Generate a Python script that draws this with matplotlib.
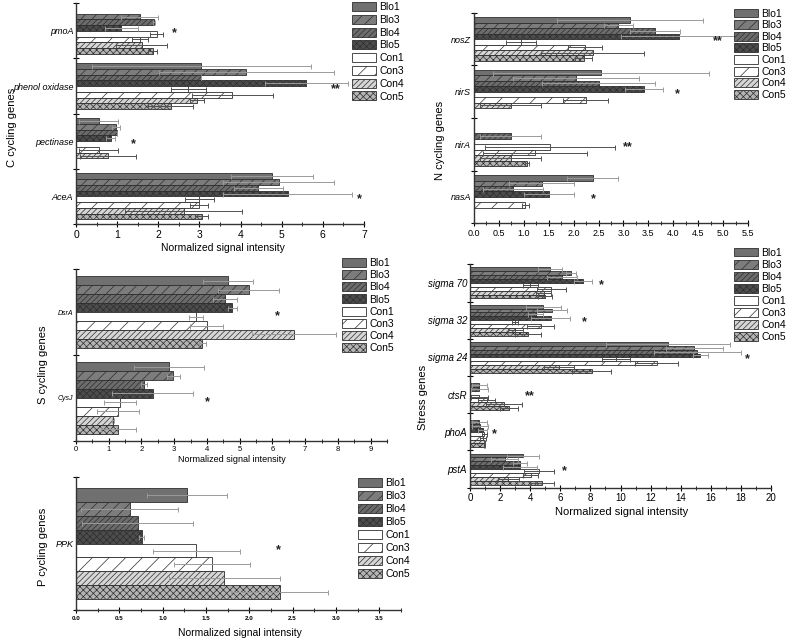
import numpy as np
import matplotlib.pyplot as plt
from matplotlib.patches import Patch
from matplotlib.ticker import MultipleLocator, FormatStrFormatter

plt.rcParams['font.family'] = ['Liberation Sans', 'DejaVu Sans']
plt.rcParams['hatch.linewidth'] = 0.5

series = ["Blo1", "Blo3", "Blo4", "Blo5", "Con1", "Con3", "Con4", "Con5"]

# C cycling genes
c_genes = ["pmoA", "phenol oxidase", "pectinase", "AceA"]
c_vals = [
    [0.00, 1.55, 1.90, 1.10, 1.96, 1.56, 1.60, 1.86],
    [3.05, 4.14, 3.05, 5.60, 2.73, 3.80, 2.94, 2.30],
    [0.55, 0.97, 1.00, 0.84, 0.00, 0.55, 0.78, 0.00],
    [4.76, 4.93, 4.43, 5.15, 3.00, 2.99, 2.62, 3.06],
]
c_errs = [
    [0.00, 0.45, 0.03, 0.40, 0.15, 0.20, 0.62, 0.10],
    [2.65, 2.12, 0.00, 1.00, 0.42, 0.98, 0.17, 0.55],
    [0.48, 0.10, 0.00, 0.11, 0.00, 0.48, 0.68, 0.00],
    [1.00, 1.35, 0.60, 1.57, 0.36, 0.23, 1.42, 0.16],
]
c_stars = ["*", "**", "*", "*"]
c_star_x = [2.39, 6.32, 1.39, 6.88]

# N cycling genes
n_genes = ["nosZ", "nirS", "nirA", "nasA"]
n_vals = [
    [3.13, 2.90, 3.64, 4.11, 0.95, 2.22, 2.38, 2.20],
    [2.55, 2.05, 2.50, 3.41, 0.00, 2.24, 0.74, 0.00],
    [0.00, 0.00, 0.74, 0.00, 1.53, 1.22, 0.74, 1.06],
    [2.38, 1.36, 0.79, 1.51, 0.00, 1.03, 0.00, 0.00],
]
n_errs = [
    [1.47, 0.30, 0.50, 1.16, 0.30, 0.34, 1.04, 0.17],
    [2.17, 1.27, 1.14, 0.38, 0.00, 0.45, 0.61, 0.00],
    [0.00, 0.00, 0.61, 0.00, 1.30, 1.04, 0.61, 0.04],
    [0.51, 0.65, 0.60, 0.50, 0.00, 0.07, 0.00, 0.00],
]
n_stars = ["**", "*", "**", "*"]
n_star_x = [4.9, 4.09, 3.08, 2.4]

# S cycling genes
s_genes = ["DsrA", "CysJ"]
s_vals = [
    [4.65, 5.28, 4.55, 4.78, 3.66, 3.99, 6.66, 3.86],
    [2.84, 2.97, 2.08, 2.34, 1.34, 1.29, 1.14, 1.29],
]
s_errs = [
    [0.77, 0.93, 0.38, 0.15, 0.21, 0.51, 1.28, 0.11],
    [1.08, 0.20, 0.08, 1.24, 0.49, 0.64, 0.03, 0.54],
]
s_stars = ["*", "*"]
s_star_x = [6.16, 4.01]

# P cycling genes
p_genes = ["PPK"]
p_vals = [[1.28, 0.62, 0.71, 0.76, 1.39, 1.57, 1.71, 2.35]]
p_errs = [[0.46, 0.56, 0.64, 0.03, 0.50, 0.44, 0.64, 0.56]]
p_stars = ["*"]
p_star_x = [2.33]

# Stress genes
st_genes = ["sigma 70", "sigma 32", "sigma 24", "ctsR", "phoA", "pstA"]
st_vals = [
    [5.30, 6.70, 6.10, 7.50, 4.00, 5.40, 4.90, 5.00],
    [4.87, 5.47, 4.36, 5.36, 3.00, 4.70, 3.00, 3.83],
    [13.15, 14.90, 15.10, 15.30, 9.70, 12.40, 5.90, 8.10],
    [0.00, 0.62, 0.62, 0.00, 0.62, 1.10, 2.24, 2.57],
    [0.00, 0.60, 0.65, 0.85, 0.95, 0.85, 0.95, 0.95],
    [3.50, 2.30, 3.32, 3.32, 4.60, 4.05, 2.55, 4.78],
]
st_errs = [
    [0.80, 0.35, 1.00, 0.60, 0.50, 0.95, 0.50, 0.45],
    [1.15, 1.00, 0.50, 1.30, 0.20, 0.90, 0.50, 0.87],
    [4.10, 1.90, 2.90, 0.50, 0.95, 1.45, 1.00, 1.30],
    [0.00, 0.50, 0.55, 0.00, 0.55, 0.55, 1.20, 0.60],
    [0.00, 0.50, 0.55, 0.30, 0.15, 0.20, 0.05, 0.05],
    [1.07, 0.90, 0.47, 1.10, 1.00, 0.50, 0.70, 0.78],
]
st_stars = ["*", "*", "*", "**", "*", "*"]
st_star_x = [8.7, 7.6, 18.4, 3.95, 1.6, 6.3]

# bar look for each series
face = ['#707070', '#7c7c7c', '#6c6c6c', '#4c4c4c', 'white', 'white', '#d6d6d6', '#b4b4b4']
hatch = [None, '///', '//////', 'xxxxx', None, '//', '//////', 'xxxxx']
err_col = ['#9a9a9a'] * 4 + ['#505050'] * 4

W, H = 787, 640
fig = plt.figure(figsize=(W / 100, H / 100), dpi=100)


def add_ax(l, t, r, b):
    return fig.add_axes([l / W, 1 - b / H, (r - l) / W, (b - t) / H])


def ftext(x, y, s, **kw):
    fig.text(x / W, 1 - y / H, s, ha='center', va='center', **kw)


def draw_panel(ax, genes, vals, errs, stars, star_x, xmax, major, minor,
               tick_fs, gene_fs, fmt=None, tick_bold=False, errc=None):
    vals = np.array(vals)
    errs = np.array(errs)
    n = len(genes)
    h = 0.104
    centers = np.arange(n) + 0.5
    for j in range(len(series)):
        ys = centers + (j - 3.5) * h
        m = vals[:, j] > 0
        ax.barh(ys[m], vals[m, j], height=h, color=face[j], hatch=hatch[j],
                edgecolor='#2e2e2e', linewidth=0.6, zorder=2)
        ec = errc if errc else err_col[j]
        ax.errorbar(vals[m, j], ys[m], xerr=errs[m, j], fmt='none', ecolor=ec,
                    elinewidth=0.7, capsize=1.8, capthick=0.7, zorder=3)
    for i in range(n):
        ax.text(star_x[i], centers[i] + 0.05, stars[i], ha='center', va='center',
                fontsize=9, fontweight='bold', color='#222222')
    ax.set_xlim(0, xmax)
    ax.set_ylim(n, 0)
    ax.xaxis.set_major_locator(MultipleLocator(major))
    ax.xaxis.set_minor_locator(MultipleLocator(minor))
    if fmt:
        ax.xaxis.set_major_formatter(FormatStrFormatter(fmt))
    ax.set_yticks(np.arange(n + 1))
    ax.set_yticklabels([])
    ax.set_yticks(centers, minor=True)
    ax.set_yticklabels(genes, minor=True, fontstyle='italic', fontsize=gene_fs)
    ax.tick_params(axis='y', which='major', direction='inout', length=4, width=0.8)
    ax.tick_params(axis='y', which='minor', length=0, pad=2)
    ax.tick_params(axis='x', which='major', direction='inout', length=4, width=0.8,
                   labelsize=tick_fs, pad=2)
    ax.tick_params(axis='x', which='minor', direction='inout', length=2.5, width=0.6)
    if tick_bold:
        for lab in ax.get_xticklabels():
            lab.set_fontweight('bold')
    for sp in ['top', 'right']:
        ax.spines[sp].set_visible(False)
    for sp in ['left', 'bottom']:
        ax.spines[sp].set_linewidth(1.0)
        ax.spines[sp].set_color('#333333')


def add_legend(ax, x, y, spacing):
    handles = [Patch(facecolor=face[j], hatch=hatch[j], edgecolor='#2e2e2e',
                     linewidth=0.6) for j in range(len(series))]
    ax.legend(handles, series, loc='upper left', bbox_to_anchor=(x / W, 1 - y / H),
              bbox_transform=fig.transFigure, frameon=False, fontsize=7.5,
              handlelength=2.3, handleheight=0.95, handletextpad=0.3,
              labelspacing=spacing, borderpad=0, borderaxespad=0)


# C panel
ax_c = add_ax(76, 3.3, 364, 224)
draw_panel(ax_c, c_genes, c_vals, c_errs, c_stars, c_star_x, 7.0, 1, 0.5, 7.5, 6.5)
add_legend(ax_c, 352, 2, 0.26)
ftext(12, 127, "C cycling genes", rotation=90, fontsize=8)
ftext(223, 248, "Normalized signal intensity", fontsize=7.5)

# N panel
ax_n = add_ax(474, 12.7, 748, 223.3)
draw_panel(ax_n, n_genes, n_vals, n_errs, n_stars, n_star_x, 5.5, 0.5, 0.25, 6.5, 6.5,
           fmt='%.1f')
add_legend(ax_n, 734, 8.5, 0.15)
ftext(440, 140, "N cycling genes", rotation=90, fontsize=8)

# S panel
ax_s = add_ax(76, 269.3, 387, 440.7)
draw_panel(ax_s, s_genes, s_vals, s_errs, s_stars, s_star_x, 9.5, 1, 0.5, 5.5, 5,
           errc='#9a9a9a')
add_legend(ax_s, 342, 258, 0.2)
ftext(43, 365, "S cycling genes", rotation=90, fontsize=8)
ftext(232, 460, "Normalized signal intensity", fontsize=6.5)

# P panel
ax_p = add_ax(76, 477.3, 401, 610)
draw_panel(ax_p, p_genes, p_vals, p_errs, p_stars, p_star_x, 3.75, 0.5, 0.25, 4.5, 6.5,
           fmt='%.1f', tick_bold=True, errc='#9a9a9a')
add_legend(ax_p, 358, 478, 0.28)
ftext(43, 547, "P cycling genes", rotation=90, fontsize=8)
ftext(240, 633, "Normalized signal intensity", fontsize=7.5)

# Stress panel
ax_st = add_ax(470, 264.3, 771, 487.7)
draw_panel(ax_st, st_genes, st_vals, st_errs, st_stars, st_star_x, 20, 2, 1, 7, 7)
add_legend(ax_st, 734, 247.5, 0.19)
ftext(423, 397, "Stress genes", rotation=90, fontsize=8)
ftext(622, 512, "Normalized signal intensity", fontsize=8)

fig.savefig("out.png", dpi=100)
